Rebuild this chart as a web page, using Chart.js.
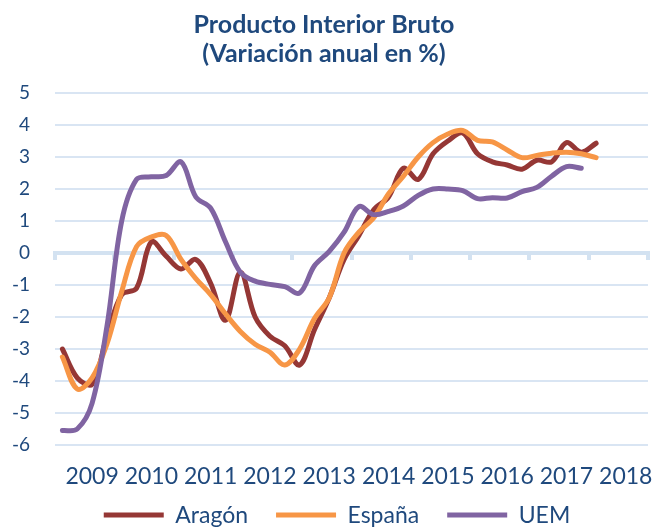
<!DOCTYPE html>
<html><head><meta charset="utf-8">
<script src="https://cdn.jsdelivr.net/npm/chart.js@4.4.0/dist/chart.umd.min.js"></script>
<style>html,body{margin:0;padding:0;background:#fff}</style>
</head><body>
<canvas id="c" width="655" height="527"></canvas>
<script>
// Year tick labels (one label per year; data are quarterly, 2009 T1 onwards)
const years = ['2009','2010','2011','2012','2013','2014','2015','2016','2017','2018'];
const seriesNames = ['Aragón','España','UEM'];

// Quarterly year-on-year GDP growth (%)
const aragon = [-3.0,-3.9,-4.1,-2.6,-1.3,-1.1,0.35,-0.1,-0.5,-0.2,-0.95,-2.1,-0.6,-2.0,-2.6,-2.9,
  -3.5,-2.4,-1.4,-0.2,0.55,1.35,1.75,2.65,2.3,3.1,3.5,3.75,3.1,2.85,2.75,2.62,2.9,2.85,3.45,3.15,3.43];
const espana = [-3.25,-4.25,-3.9,-2.85,-1.2,0.2,0.5,0.55,-0.2,-0.8,-1.3,-1.9,-2.45,-2.85,-3.1,-3.5,
  -3.0,-2.05,-1.4,0.0,0.65,1.1,1.85,2.4,3.0,3.45,3.72,3.83,3.52,3.47,3.22,2.98,3.05,3.12,3.15,3.1,2.98];
const uem = [-5.55,-5.5,-4.7,-2.3,1.0,2.3,2.38,2.42,2.85,1.75,1.4,0.35,-0.6,-0.88,-0.98,-1.05,
  -1.25,-0.4,0.05,0.65,1.45,1.2,1.3,1.47,1.8,2.0,2.0,1.95,1.7,1.73,1.72,1.92,2.05,2.4,2.7,2.65];

const colors = ['#953735','#F79646','#8064A2'];
const textColor = '#1F497D';
const gridColor = '#D9E5F3';
const axisColor = '#D3E2F1';

const toPoints = arr => arr.map((v,i) => ({x: i + 0.5, y: v}));
const allSeries = [aragon, espana, uem];

const datasets = allSeries.map((arr, k) => ({
  label: seriesNames[k],
  data: toPoints(arr),
  borderColor: colors[k],
  backgroundColor: colors[k],
  borderWidth: 5,
  pointRadius: 0,
  tension: 0.35,
  fill: false,
  borderCapStyle: 'round',
  borderJoinStyle: 'round',
  order: allSeries.length - 1 - k
}));

// Nudge the legend block to where the original places it
const legendNudge = {
  id: 'legendNudge',
  afterLayout(chart) {
    const l = chart.legend;
    if (!l) return;
    l.top -= 33; l.bottom -= 33;
    l.left += 13; l.right += 13;
  }
};

new Chart(document.getElementById('c'), {
  type: 'line',
  data: {datasets},
  plugins: [legendNudge],
  options: {
    responsive: false,
    animation: false,
    layout: {padding: {left: 0, right: 7, top: 0, bottom: -42.6}},
    plugins: {
      title: {
        display: true,
        text: ['Producto Interior Bruto', '(Variación anual en %)'],
        color: textColor,
        font: {family: 'Lato', size: 25, weight: 'bold', lineHeight: 1.16},
        padding: {top: 10, bottom: 25}
      },
      legend: {
        position: 'bottom',
        labels: {
          font: {family: 'Lato', size: 23},
          color: textColor,
          usePointStyle: true,
          pointStyle: 'line',
          pointStyleWidth: 60,
          padding: 28,
          sort: (a, b) => a.datasetIndex - b.datasetIndex
        }
      },
      tooltip: {enabled: false}
    },
    scales: {
      x: {
        type: 'linear', min: 0, max: 40, position: 'bottom',
        grid: {display: false, drawTicks: false},
        border: {display: false},
        ticks: {
          font: {family: 'Lato', size: 23}, color: textColor, padding: 18,
          maxRotation: 0, autoSkip: false,
          callback: (v, i) => years[i]
        },
        afterBuildTicks: s => { s.ticks = years.map((_, k) => ({value: 4 * k + 2.5})); },
        afterFit: s => { s.paddingLeft = 0; s.paddingRight = 0; }
      },
      x0: {
        type: 'linear', axis: 'x', min: 0, max: 40, position: {y: 0},
        grid: {drawOnChartArea: false, drawTicks: true, tickLength: 5, color: axisColor, lineWidth: 4},
        border: {display: true, color: axisColor, width: 4},
        ticks: {display: false},
        afterBuildTicks: s => {
          const t = [];
          for (let k = 0; k <= years.length; k++) t.push({value: 4 * k});
          s.ticks = t;
        }
      },
      y: {
        min: -6, max: 5,
        ticks: {stepSize: 1, font: {family: 'Lato', size: 19}, color: textColor, padding: 25},
        grid: {color: gridColor, lineWidth: 2, drawTicks: false},
        border: {display: false},
        afterFit: s => { s.width = 55; }
      }
    }
  }
});
</script>
</body></html>
